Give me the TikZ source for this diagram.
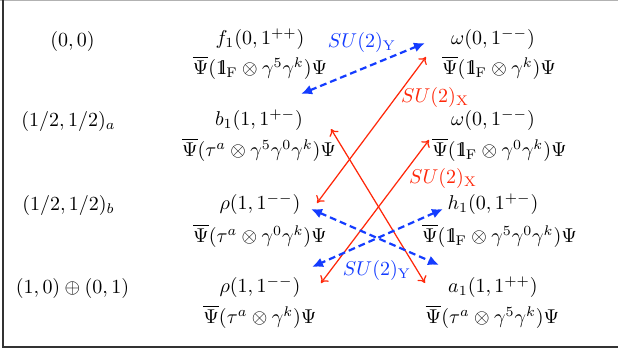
\documentclass[tikz,border=0pt]{standalone}
\usepackage{amsmath}
\usetikzlibrary{arrows.meta}
\definecolor{xred}{RGB}{255,40,10}
\definecolor{yblue}{RGB}{20,60,255}
\newcommand{\one}{\mathrm{1\kern-0.27em l}_{\mathrm{F}}}
\newcommand{\psib}{\overline{\Psi}}
\begin{document}
\begin{tikzpicture}[x=0.5pt,y=-0.5pt,
  txt/.style={inner sep=0pt, anchor=center},
  xlab/.style={txt, text=xred},
  ylab/.style={txt, text=yblue},
  xarr/.style={draw=xred, line width=0.62pt, {To[length=3.2pt,width=5.2pt]}-{To[length=3.2pt,width=5.2pt]}},
  yarr/.style={draw=yblue, line width=1.1pt, dash pattern=on 3.4pt off 2pt, {Latex[length=5.5pt,width=5pt]}-{Latex[length=5.5pt,width=5pt]}}]
\useasboundingbox (0,0) rectangle (618,354);
\fill[white] (0,0) rectangle (618,354);
% frame
\draw[black!30, line width=0.6pt] (0,0.6) -- (618,0.6);
\draw[black!80, line width=1pt] (3.5,0) -- (3.5,346.5) -- (618,346.5);
% left labels
\node[txt] (l1) at (72.5,41) {$(0,0)$};
\node[txt] (l2) at (68.5,121) {$(1/2,1/2)_a$};
\node[txt] (l3) at (68.5,205) {$(1/2,1/2)_b$};
\node[txt] (l4) at (72.5,288) {$(1,0)\oplus(0,1)$};
% middle column
\node[txt] (f1) at (260,39) {$f_1(0,1^{++})$};
\node[txt] (f1op) at (260,68) {$\psib(\one\otimes\gamma^5\gamma^k)\Psi$};
\node[txt] (b1) at (259,120) {$b_1(1,1^{+-})$};
\node[txt] (b1op) at (259,150) {$\psib(\tau^a\otimes\gamma^5\gamma^0\gamma^k)\Psi$};
\node[txt] (rhoa) at (260,204) {$\rho(1,1^{--})$};
\node[txt] (rhoaop) at (260,236) {$\psib(\tau^a\otimes\gamma^0\gamma^k)\Psi$};
\node[txt] (rhob) at (260,287) {$\rho(1,1^{--})$};
\node[txt] (rhobop) at (260,317) {$\psib(\tau^a\otimes\gamma^k)\Psi$};
% right column
\node[txt] (oma) at (493,39) {$\omega(0,1^{--})$};
\node[txt] (omaop) at (499,68) {$\psib(\one\otimes\gamma^k)\Psi$};
\node[txt] (omb) at (493,120) {$\omega(0,1^{--})$};
\node[txt] (ombop) at (499.5,150) {$\psib(\one\otimes\gamma^0\gamma^k)\Psi$};
\node[txt] (h1) at (493,204) {$h_1(0,1^{+-})$};
\node[txt] (h1op) at (499.5,236) {$\psib(\one\otimes\gamma^5\gamma^0\gamma^k)\Psi$};
\node[txt] (a1) at (493,287) {$a_1(1,1^{++})$};
\node[txt] (a1op) at (492.5,317) {$\psib(\tau^a\otimes\gamma^5\gamma^k)\Psi$};
% arrow end points
\coordinate (b1s) at (301,94);  \coordinate (b1e) at (425,43);
\coordinate (r1s) at (426,57);  \coordinate (r1e) at (317,203);
\coordinate (r2s) at (331,129); \coordinate (r2e) at (425,283);
\coordinate (r3s) at (429,140); \coordinate (r3e) at (321,283);
\coordinate (b2s) at (311,209); \coordinate (b2e) at (439,265);
\coordinate (b3s) at (443,209); \coordinate (b3e) at (312,267);
% connectors
\draw[yarr] (b1s) -- (b1e);
\draw[xarr] (r1s) -- (r1e);
\draw[xarr] (r2s) -- (r2e);
\draw[xarr] (r3s) -- (r3e);
\draw[yarr] (b2s) -- (b2e);
\draw[yarr] (b3s) -- (b3e);
% group labels
\node[ylab] (suy1) at (362,42) {$SU(2)_{\mathrm{Y}}$};
\node[xlab] (sux1) at (435,97) {$SU(2)_{\mathrm{X}}$};
\node[xlab] (sux2) at (443,178) {$SU(2)_{\mathrm{X}}$};
\node[ylab] (suy2) at (377,270) {$SU(2)_{\mathrm{Y}}$};
\end{tikzpicture}
\end{document}
